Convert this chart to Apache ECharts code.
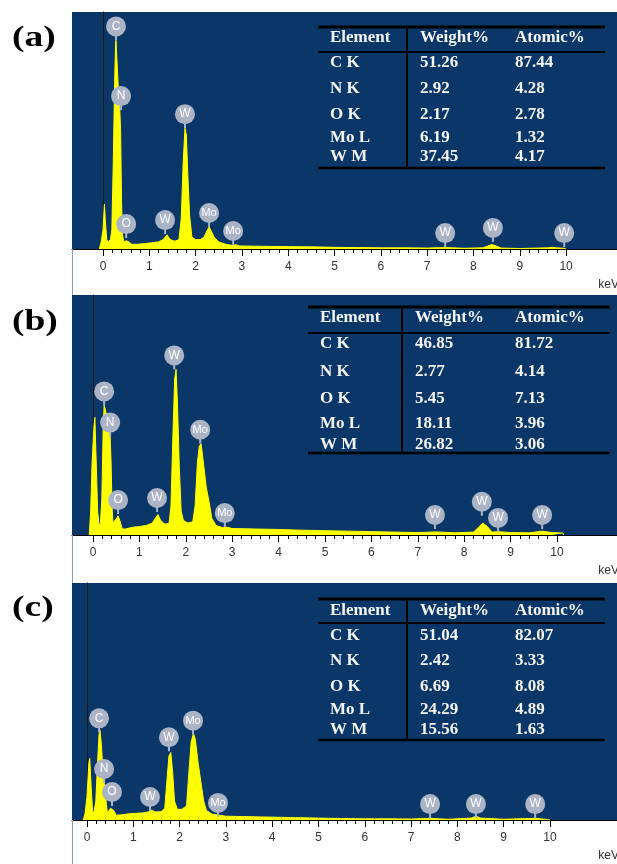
<!DOCTYPE html>
<html>
<head>
<meta charset="utf-8">
<script src="https://cdn.jsdelivr.net/npm/echarts@6/dist/echarts.min.js"></script>
<style>
  html, body { margin: 0; padding: 0; background: #fff; }
  #chart { width: 617px; height: 864px; }
</style>
</head>
<body>
<div id="chart"></div>
<script>
// EDS spectra, [keV, counts as % of plot height]
const spectrumA = [[-0.08,0],[-0.04,3],[0.0,8],[0.03,19],[0.05,12],[0.08,4],[0.11,3],[0.16,4],[0.19,8],[0.22,35],[0.25,70],[0.27,86],[0.28,88],[0.30,80],[0.33,68],[0.36,60],[0.38,50],[0.40,20],[0.42,6],[0.45,3],[0.50,3.5],[0.53,4.3],[0.56,3],[0.62,2],[0.75,2],[0.9,2.3],[1.05,2.6],[1.2,3],[1.3,4],[1.38,6],[1.45,4],[1.55,3.3],[1.64,4],[1.69,13],[1.73,36],[1.77,51],[1.80,48],[1.83,32],[1.87,14],[1.92,5],[2.0,4],[2.1,4],[2.18,5],[2.24,7.5],[2.29,9.3],[2.34,7.5],[2.40,5],[2.5,3],[2.65,2],[2.8,1.5],[2.87,1.8],[2.95,1.3],[3.2,1.2],[3.6,1.1],[4.0,1.0],[4.5,0.9],[5.0,0.7],[5.5,0.6],[6.0,0.5],[6.5,0.5],[7.0,0.4],[7.4,0.6],[7.8,0.3],[8.2,0.5],[8.3,1.2],[8.4,1.9],[8.5,1.2],[8.6,0.4],[9.0,0.2],[9.6,0.5],[9.7,0.7],[9.8,0.5],[9.95,0.3],[10.0,0]];
const spectrumB = [[-0.08,0],[-0.05,10],[-0.02,30],[0.02,45],[0.04,49],[0.07,30],[0.10,10],[0.13,4],[0.16,5],[0.19,15],[0.22,45],[0.24,54],[0.27,52],[0.31,48],[0.35,44],[0.37,41],[0.39,30],[0.41,12],[0.43,5],[0.47,5],[0.51,7],[0.54,8],[0.58,6],[0.63,2.5],[0.7,2.5],[0.85,3.2],[1.0,3.5],[1.15,4],[1.28,5],[1.34,7],[1.40,8.5],[1.46,6],[1.55,4.5],[1.64,5],[1.68,12],[1.72,40],[1.76,65],[1.79,69],[1.82,55],[1.86,28],[1.90,10],[1.95,6],[2.05,5],[2.15,5.5],[2.20,12],[2.25,30],[2.29,37],[2.33,38],[2.38,30],[2.44,20],[2.50,14],[2.56,7],[2.65,4],[2.8,3],[2.87,3.3],[3.0,2.7],[3.5,2.5],[4.0,2.3],[4.5,2],[5.0,1.8],[5.5,1.6],[6.0,1.4],[6.5,1.2],[7.0,1.0],[7.4,1.3],[7.8,0.9],[8.2,1.2],[8.3,3],[8.4,5],[8.5,3.5],[8.6,1.2],[8.73,1.4],[9.0,1.0],[9.4,0.9],[9.68,1.6],[9.9,1.0],[10.13,0.8],[10.14,0]];
const spectrumC = [[-0.08,0],[-0.04,3],[0.0,10],[0.04,24],[0.06,26],[0.09,14],[0.12,4],[0.15,3],[0.19,8],[0.23,25],[0.26,36],[0.28,38],[0.31,32],[0.34,22],[0.37,16],[0.40,10],[0.44,3],[0.48,3.5],[0.51,5],[0.54,5.7],[0.58,4],[0.63,2],[0.75,2.2],[0.9,2.6],[1.05,2.8],[1.2,3],[1.32,3.4],[1.40,4.2],[1.47,3.4],[1.6,3.5],[1.68,5],[1.72,15],[1.77,27],[1.81,28.5],[1.85,20],[1.89,8],[1.95,4.5],[2.05,4.5],[2.15,6],[2.20,20],[2.25,33],[2.30,36.5],[2.34,34],[2.40,24],[2.46,16],[2.52,8],[2.58,4],[2.7,2.5],[2.87,2],[3.0,1.6],[3.5,1.4],[4.0,1.2],[4.5,1.0],[5.0,0.8],[5.5,0.6],[6.0,0.5],[6.5,0.5],[7.0,0.4],[7.4,0.7],[7.8,0.3],[8.3,0.8],[8.4,1.6],[8.5,0.8],[9.0,0.3],[9.68,0.7],[9.9,0.3],[10.0,0]];

// peak markers, [keV, counts at the marker stem, element]
const peaksA = [[0.28,88,'C'],[0.39,58.6,'N'],[0.50,4.6,'O'],[1.34,6.3,'W'],[1.77,51,'W'],[2.29,9.3,'Mo'],[2.81,1.7,'Mo'],[7.39,0.8,'W'],[8.42,3,'W'],[9.96,0.8,'W']];
const peaksB = [[0.24,54,'C'],[0.37,41,'N'],[0.54,8.7,'O'],[1.38,9.6,'W'],[1.75,69,'W'],[2.31,38,'Mo'],[2.84,3.3,'Mo'],[7.37,2.5,'W'],[8.38,8,'W'],[8.73,1.3,'W'],[9.68,2.5,'W']];
const peaksC = [[0.26,37,'C'],[0.37,15.6,'N'],[0.54,5.9,'O'],[1.36,3.8,'W'],[1.77,29,'W'],[2.29,36,'Mo'],[2.83,1.3,'Mo'],[7.41,0.8,'W'],[8.40,0.8,'W'],[9.68,0.8,'W']];

// quantification tables
const tableHeader = ['Element', 'Weight%', 'Atomic%'];
const elements = ['C K', 'N K', 'O K', 'Mo L', 'W M'];
const weightA = ['51.26', '2.92', '2.17', '6.19', '37.45'];
const atomicA = ['87.44', '4.28', '2.78', '1.32', '4.17'];
const weightB = ['46.85', '2.77', '5.45', '18.11', '26.82'];
const atomicB = ['81.72', '4.14', '7.13', '3.96', '3.06'];
const weightC = ['51.04', '2.42', '6.69', '24.29', '15.56'];
const atomicC = ['82.07', '3.33', '8.08', '4.89', '1.63'];

const majorTicks = [0, 1, 2, 3, 4, 5, 6, 7, 8, 9, 10];
const minorTicks = [];
majorTicks.slice(0, -1).forEach(function (t) {
  for (let k = 1; k < 5; k++) minorTicks.push(+(t + k * 0.2).toFixed(1));
});

const panels = [
  { tag: '(a)', tagY: 38, top: 12, height: 237, stripEnd: 295, min: -0.67, max: 11.1,
    spectrum: spectrumA, peaks: peaksA, weight: weightA, atomic: atomicA,
    tab: { top: 27, x0: 318, x1: 605, xv: 407, cols: [330, 420, 515], head: 11, line: 25, rows: [36, 62, 88, 111, 130], bottom: 141 } },
  { tag: '(b)', tagY: 322, top: 295, height: 240, stripEnd: 583, min: -0.4526, max: 11.293,
    spectrum: spectrumB, peaks: peaksB, weight: weightB, atomic: atomicB,
    tab: { top: 307, x0: 308, x1: 610, xv: 402, cols: [320, 415, 515], head: 11, line: 26, rows: [37, 65, 92, 117, 138], bottom: 146 } },
  { tag: '(c)', tagY: 608, top: 583, height: 237, stripEnd: 864, min: -0.324, max: 11.447,
    spectrum: spectrumC, peaks: peaksC, weight: weightC, atomic: atomicC,
    tab: { top: 599, x0: 318, x1: 605, xv: 407, cols: [330, 420, 515], head: 12, line: 24, rows: [37, 62, 88, 111, 131], bottom: 141 } }
];

const BLUE = '#0a3668';
const BADGE = '#aab4c6';
const serif = '"Liberation Serif", "Times New Roman", serif';

const grids = [], xAxes = [], yAxes = [], series = [], graphics = [];

panels.forEach(function (p, i) {
  grids.push({ left: 72, right: 0, top: p.top, height: p.height, show: true,
    backgroundColor: BLUE, borderWidth: 0 });

  xAxes.push({
    type: 'value', gridIndex: i, min: p.min, max: p.max, position: 'bottom',
    axisLine: { lineStyle: { color: '#000', width: 1 } },
    axisTick: { customValues: majorTicks, length: 7, lineStyle: { color: '#000' } },
    axisLabel: { customValues: majorTicks, margin: 12, color: '#333',
      fontFamily: 'Liberation Sans, Arial, sans-serif', fontSize: 12 },
    splitLine: { show: false }
  });
  xAxes.push({
    type: 'value', gridIndex: i, min: p.min, max: p.max, position: 'bottom',
    axisLine: { show: false },
    axisTick: { customValues: minorTicks, length: 4, lineStyle: { color: '#000' } },
    axisLabel: { show: false },
    splitLine: { show: false }
  });
  yAxes.push({
    type: 'value', gridIndex: i, min: 0, max: 100,
    axisLine: { show: true, onZero: true, lineStyle: { color: '#161616', width: 1 } },
    axisTick: { show: false }, axisLabel: { show: false }, splitLine: { show: false }
  });

  series.push({
    type: 'line', xAxisIndex: i * 2, yAxisIndex: i, data: p.spectrum,
    symbol: 'none', z: 3,
    lineStyle: { color: '#ffff00', width: 1 },
    areaStyle: { color: '#ffff00', opacity: 1 }
  });

  const pk = p.peaks;
  series.push({
    type: 'custom', xAxisIndex: i * 2, yAxisIndex: i, data: pk, clip: false, z: 5,
    renderItem: function (params, api) {
      const pt = api.coord([api.value(0), api.value(1)]);
      const name = pk[params.dataIndex][2];
      return {
        type: 'group',
        children: [
          { type: 'line', shape: { x1: pt[0], y1: pt[1], x2: pt[0], y2: pt[1] - 8 },
            style: { stroke: BADGE, lineWidth: 2 } },
          { type: 'circle', shape: { cx: pt[0], cy: pt[1] - 14, r: 10 },
            style: { fill: BADGE } },
          { type: 'text', style: { text: name, x: pt[0], y: pt[1] - 14,
            align: 'center', verticalAlign: 'middle', fill: '#fff',
            font: (name.length > 1 ? '11px' : '12px') + ' "Liberation Sans", Arial, sans-serif' } }
        ]
      };
    }
  });

  // panel tag, the original lettering is a bit wide
  graphics.push({ type: 'text', x: 12, y: p.tagY, scaleX: 1.25, z: 100,
    style: { text: p.tag, x: 0, y: 0, verticalAlign: 'middle', fill: '#000', font: 'bold 30px ' + serif } });

  // white axis strip border
  const base = p.top + p.height;
  graphics.push({ type: 'line', z: 100,
    shape: { x1: 72.5, y1: base, x2: 72.5, y2: p.stripEnd },
    style: { stroke: '#8b9cb2', lineWidth: 1 } });

  // keV unit
  graphics.push({ type: 'text', z: 100,
    style: { text: 'keV', x: 619, y: base + 36, align: 'right', verticalAlign: 'middle',
      fill: '#333', font: '12px "Liberation Sans", Arial, sans-serif' } });

  // table
  const t = p.tab;
  const tl = function (x1, y1, x2, y2, w) {
    graphics.push({ type: 'line', z: 100, shape: { x1: x1, y1: y1, x2: x2, y2: y2 },
      style: { stroke: '#000', lineWidth: w } });
  };
  tl(t.x0, t.top, t.x1, t.top, 3);
  tl(t.x0, t.top + t.line, t.x1, t.top + t.line, 2);
  tl(t.x0, t.top + t.bottom, t.x1, t.top + t.bottom, 2.5);
  tl(t.xv, t.top, t.xv, t.top + t.bottom, 2);
  const tt = function (text, x, y) {
    graphics.push({ type: 'text', z: 101,
      style: { text: text, x: x, y: y, align: 'left', verticalAlign: 'middle',
        fill: '#f4f4f4', font: 'bold 17px ' + serif } });
  };
  tableHeader.forEach(function (h, c) { tt(h, t.cols[c], t.top + t.head); });
  elements.forEach(function (e, r) {
    const y = t.top + t.rows[r];
    tt(e, t.cols[0], y);
    tt(p.weight[r], t.cols[1], y);
    tt(p.atomic[r], t.cols[2], y);
  });
});

const chart = echarts.init(document.getElementById('chart'));
chart.setOption({
  animation: false,
  backgroundColor: '#fff',
  grid: grids,
  xAxis: xAxes,
  yAxis: yAxes,
  series: series,
  graphic: graphics
});
</script>
</body>
</html>
